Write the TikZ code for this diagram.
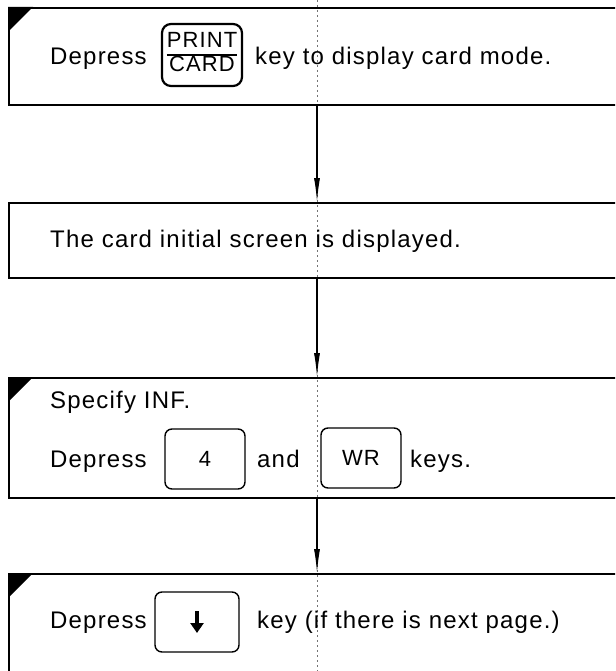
\documentclass[tikz,border=0pt]{standalone}
\usepackage{fontspec}
\setmainfont{Liberation Sans}[LetterSpace=5]
\usetikzlibrary{arrows.meta,positioning,calc}

\begin{document}
\begin{tikzpicture}[x=1pt,y=-1pt,
  stepbox/.style={draw,line width=1.8pt,minimum width=700pt,inner sep=0pt,anchor=north west},
  keycap/.style={draw,line width=1.4pt,rounded corners=7pt,inner sep=0pt,minimum width=80pt,minimum height=60pt,font=\fontsize{22}{24}\selectfont},
  txt/.style={anchor=base west,inner sep=0pt,font=\fontsize{24}{28}\selectfont},
  flow/.style={line width=1.2pt,-{Latex[length=24pt,width=6pt]}},
  guide/.style={black!55,line width=0.5pt,dash pattern=on 2pt off 3pt}]
 \useasboundingbox (0,0) rectangle (615,671);
 \clip (0,0) rectangle (615,671);
 \fill[white] (0,0) rectangle (615,671);
 \coordinate (axis) at (317,0);
 \draw[guide] (axis) -- (317,671);
 % step frames, open to the right
 \node[stepbox,minimum height=97pt]  (s1) at (8,7) {};
 \node[stepbox,minimum height=75pt]  (s2) at (8,202) {};
 \node[stepbox,minimum height=120pt] (s3) at (8,377) {};
 \node[stepbox,minimum height=120pt] (s4) at (8,573) {};
 \foreach \s in {s1,s3,s4}
   \fill (\s.north west) -- ++(25,0) -- ++(-25,25) -- cycle;
 % step 1
 \node[txt] (d1) at (50,65) {Depress};
 \node[keycap,line width=2.2pt,rounded corners=9pt,minimum height=62pt] (k1) at (202,55)
   {\setlength{\arrayrulewidth}{1.4pt}\renewcommand{\arraystretch}{0.95}%
    \begin{tabular}{@{}c@{}}PRINT\\\hline CARD\end{tabular}};
 \node[txt] (t1) at (255,65) {key to display card mode.};
 % step 2
 \node[txt] (t2) at (50,247) {The card initial screen is displayed.};
 % step 3
 \node[txt] (t3) at (50,408) {Specify INF.};
 \node[txt] (d3) at (50,467) {Depress};
 \node[keycap] (k4) at (205,459) {4};
 \node[txt] (a3) at (257,467) {and};
 \node[keycap] (kwr) at (361,458) {WR};
 \node[txt] (t3b) at (410,467) {keys.};
 % step 4
 \node[txt] (d4) at (50,628) {Depress};
 \node[keycap,minimum width=84pt] (kdn) at (197,622) {};
 \draw[line width=4pt,-{Triangle[length=10pt,width=13pt]}]
   ($(kdn.center)+(0,-11)$) -- ($(kdn.center)+(0,11)$);
 \node[txt] (t4) at (257,628) {key (if there is next page.)};
 % flow arrows
 \draw[flow] (s1.south -| axis) -- (s2.north -| axis);
 \draw[flow] (s2.south -| axis) -- (s3.north -| axis);
 \draw[flow] (s3.south -| axis) -- (s4.north -| axis);
\end{tikzpicture}
\end{document}
